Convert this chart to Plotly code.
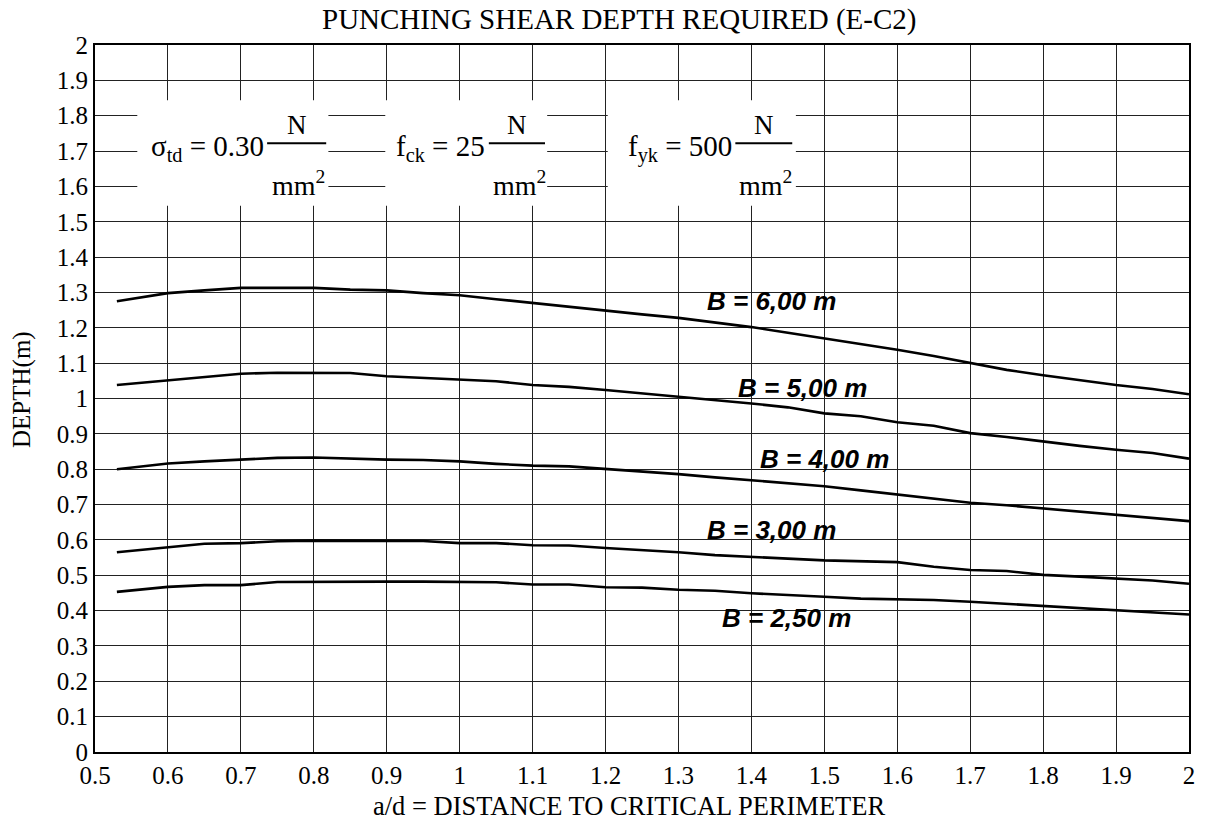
import plotly.graph_objects as go

# ---------------- data ----------------
a_d = [0.53, 0.6, 0.65, 0.7, 0.75, 0.8, 0.85, 0.9, 0.95, 1.0,
       1.05, 1.1, 1.15, 1.2, 1.25, 1.3, 1.35, 1.4, 1.45, 1.5,
       1.55, 1.6, 1.65, 1.7, 1.75, 1.8, 1.85, 1.9, 1.95, 2.0]

depth_B600 = [1.275, 1.298, 1.306, 1.313, 1.313, 1.313, 1.308, 1.306, 1.298, 1.292,
              1.281, 1.270, 1.258, 1.248, 1.238, 1.228, 1.215, 1.202, 1.186, 1.170,
              1.156, 1.138, 1.120, 1.100, 1.081, 1.066, 1.052, 1.038, 1.027, 1.012]
depth_B500 = [1.038, 1.052, 1.062, 1.070, 1.073, 1.073, 1.072, 1.063, 1.059, 1.054,
              1.049, 1.038, 1.033, 1.024, 1.015, 1.005, 0.996, 0.986, 0.975, 0.958,
              0.950, 0.933, 0.923, 0.902, 0.891, 0.878, 0.866, 0.855, 0.846, 0.830]
depth_B400 = [0.800, 0.816, 0.822, 0.827, 0.832, 0.833, 0.829, 0.827, 0.826, 0.822,
              0.815, 0.810, 0.808, 0.801, 0.793, 0.786, 0.777, 0.769, 0.760, 0.752,
              0.740, 0.728, 0.717, 0.705, 0.698, 0.689, 0.680, 0.672, 0.663, 0.653]
depth_B300 = [0.565, 0.578, 0.589, 0.591, 0.596, 0.598, 0.598, 0.598, 0.597, 0.591,
              0.591, 0.585, 0.584, 0.577, 0.572, 0.565, 0.557, 0.553, 0.547, 0.542,
              0.540, 0.537, 0.524, 0.515, 0.512, 0.501, 0.496, 0.490, 0.485, 0.476]
depth_B250 = [0.453, 0.467, 0.472, 0.472, 0.481, 0.482, 0.482, 0.482, 0.482, 0.482,
              0.480, 0.474, 0.474, 0.466, 0.465, 0.459, 0.456, 0.449, 0.445, 0.439,
              0.434, 0.433, 0.430, 0.425, 0.419, 0.411, 0.405, 0.399, 0.395, 0.389]

series = [depth_B600, depth_B500, depth_B400, depth_B300, depth_B250]
curve_labels = ["B = 6,00 m", "B = 5,00 m", "B = 4,00 m", "B = 3,00 m", "B = 2,50 m"]
label_x = [1.427, 1.470, 1.500, 1.427, 1.448]
label_y = [1.276, 1.030, 0.829, 0.628, 0.379]

x_ticks = [0.5, 0.6, 0.7, 0.8, 0.9, 1.0, 1.1, 1.2, 1.3, 1.4, 1.5, 1.6, 1.7, 1.8, 1.9, 2.0]
x_tick_labels = ["0.5", "0.6", "0.7", "0.8", "0.9", "1", "1.1", "1.2", "1.3", "1.4",
                 "1.5", "1.6", "1.7", "1.8", "1.9", "2"]
y_ticks = [0.0, 0.1, 0.2, 0.3, 0.4, 0.5, 0.6, 0.7, 0.8, 0.9, 1.0,
           1.1, 1.2, 1.3, 1.4, 1.5, 1.6, 1.7, 1.8, 1.9, 2.0]
y_tick_labels = ["0", "0.1", "0.2", "0.3", "0.4", "0.5", "0.6", "0.7", "0.8", "0.9", "1",
                 "1.1", "1.2", "1.3", "1.4", "1.5", "1.6", "1.7", "1.8", "1.9", "2"]

# material parameter blocks: (left text, block x-range, bar x-range)
param_texts = ["σ<sub>td</sub> = 0.30", "f<sub>ck</sub> = 25", "f<sub>yk</sub> = 500"]
param_block_x = [(0.558, 0.820), (0.898, 1.120), (1.203, 1.461)]
param_bar_x = [(0.736, 0.817), (1.040, 1.117), (1.378, 1.456)]

SERIF = "Liberation Serif, Times New Roman, serif"
SANS = "Liberation Sans, Arial, sans-serif"

fig = go.Figure()
for ys in series:
    fig.add_trace(go.Scatter(x=a_d, y=ys, mode="lines",
                             line=dict(color="black", width=2.6),
                             showlegend=False, hoverinfo="skip"))

shapes = []
annotations = []
for (bx0, bx1), (fx0, fx1), txt in zip(param_block_x, param_bar_x, param_texts):
    shapes.append(dict(type="rect", xref="x", yref="y", x0=bx0, x1=bx1, y0=1.545, y1=1.844,
                       fillcolor="white", line=dict(width=0), layer="between"))
    shapes.append(dict(type="line", xref="x", yref="y", x0=fx0, x1=fx1, y0=1.722, y1=1.722,
                       line=dict(color="black", width=2.2), layer="above"))
    annotations.append(dict(x=fx0 - 0.002, y=1.708, xref="x", yref="y", text=txt,
                            showarrow=False, xanchor="right", yanchor="middle",
                            font=dict(family=SERIF, size=29, color="black")))
    annotations.append(dict(x=(fx0 + fx1) / 2, y=1.775, xref="x", yref="y", text="N",
                            showarrow=False, xanchor="center", yanchor="middle",
                            font=dict(family=SERIF, size=27, color="black")))
    annotations.append(dict(x=(fx0 + fx1) / 2 + 0.003, y=1.607, xref="x", yref="y",
                            text="mm<sup>2</sup>",
                            showarrow=False, xanchor="center", yanchor="middle",
                            font=dict(family=SERIF, size=28, color="black")))

for t, lx, ly in zip(curve_labels, label_x, label_y):
    annotations.append(dict(x=lx, y=ly, xref="x", yref="y", text="<b><i>" + t + "</i></b>",
                            showarrow=False, xanchor="center", yanchor="middle",
                            font=dict(family=SANS, size=26, color="black")))

# title and axis titles (paper coords relative to plot area)
annotations.append(dict(x=(619 - 95) / 1094, y=(752 - 1) / 707, xref="paper", yref="paper",
                        text="PUNCHING SHEAR DEPTH REQUIRED (E-C2)", showarrow=False,
                        xanchor="center", yanchor="top",
                        font=dict(family=SERIF, size=29, color="black")))
annotations.append(dict(x=(629 - 95) / 1094, y=(752 - 806) / 707, xref="paper", yref="paper",
                        text="a/d = DISTANCE TO CRITICAL PERIMETER", showarrow=False,
                        xanchor="center", yanchor="middle",
                        font=dict(family=SERIF, size=26.5, color="black")))
annotations.append(dict(x=(22 - 95) / 1094, y=(752 - 390) / 707, xref="paper", yref="paper",
                        text="DEPTH(m)", showarrow=False, textangle=-90,
                        xanchor="center", yanchor="middle",
                        font=dict(family=SERIF, size=25, color="black")))

fig.update_layout(
    width=1207, height=827,
    margin=dict(l=95, r=18, t=45, b=75),
    paper_bgcolor="white", plot_bgcolor="white",
    showlegend=False,
    shapes=shapes, annotations=annotations,
    xaxis=dict(range=[0.5, 2.0], tickmode="array", tickvals=x_ticks, ticktext=x_tick_labels,
               showgrid=True, gridcolor="#222", gridwidth=1,
               showline=True, linecolor="black", linewidth=2, mirror=True,
               ticks="", zeroline=False,
               tickfont=dict(family=SERIF, size=25, color="black")),
    yaxis=dict(range=[0.0, 2.0], tickmode="array", tickvals=y_ticks, ticktext=y_tick_labels,
               showgrid=True, gridcolor="#222", gridwidth=1,
               showline=True, linecolor="black", linewidth=2, mirror=True,
               ticks="", zeroline=False,
               tickfont=dict(family=SERIF, size=25, color="black")),
)

fig.write_html("out.html")
